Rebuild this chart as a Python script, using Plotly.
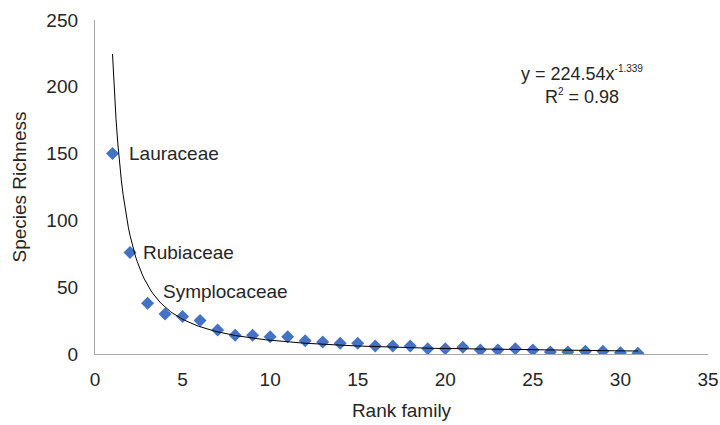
import numpy as np
import plotly.graph_objects as go

# Data
rank = list(range(1, 32))
richness = [150, 76, 38, 30, 28, 25, 18, 14, 14, 13, 13, 10, 9, 8, 8, 6, 6, 6, 4, 4,
            5, 3, 3, 4, 3, 1.5, 1.5, 2, 2, 1, 0.5]

label_names = ["Lauraceae", "Rubiaceae", "Symplocaceae"]
label_ranks = [1, 2, 3]
label_vals = [150, 76, 38]

# Power trendline coefficients as printed on the chart
coef_a = 224.54
coef_b = -1.339
r_squared = 0.98

x_axis_ticks = [0, 5, 10, 15, 20, 25, 30, 35]
y_axis_ticks = [0, 50, 100, 150, 200, 250]

FONT = "Liberation Sans, Arial, sans-serif"
TXT = "#262626"

fig = go.Figure()
fig.add_trace(go.Scatter(
    x=rank, y=richness, mode="markers",
    marker=dict(symbol="diamond", size=10, color="#4472C4", line=dict(width=0)),
    showlegend=False, hoverinfo="x+y"))

xc = np.linspace(rank[0], rank[-1], 300)
fig.add_trace(go.Scatter(
    x=xc, y=coef_a * xc ** coef_b, mode="lines",
    line=dict(color="black", width=1), showlegend=False, hoverinfo="skip"))

shifts = [(14, 0), (11, 0), (13, 12)]
for name, xr, yv, (dx, dy) in zip(label_names, label_ranks, label_vals, shifts):
    fig.add_annotation(x=xr, y=yv, text=name, showarrow=False, xanchor="left",
                       yanchor="middle", xshift=dx, yshift=dy,
                       font=dict(family=FONT, size=19, color=TXT))

fig.add_annotation(x=27.8, y=210,
                   text=f"y = {coef_a}x<sup><span style='font-size:10px'>{coef_b}</span></sup>",
                   showarrow=False, xanchor="center", yanchor="middle",
                   font=dict(family=FONT, size=18, color=TXT))
fig.add_annotation(x=27.8, y=192.4,
                   text=f"R<sup><span style='font-size:10px'>2</span></sup> = {r_squared}",
                   showarrow=False, xanchor="center", yanchor="middle",
                   font=dict(family=FONT, size=18, color=TXT))

fig.update_layout(
    width=720, height=425,
    margin=dict(l=95, r=12, t=20, b=71, autoexpand=False),
    paper_bgcolor="white", plot_bgcolor="white",
    font=dict(family=FONT, size=19, color=TXT),
    xaxis=dict(range=[0, 35], tickvals=x_axis_ticks, showgrid=False, zeroline=False,
               showline=True, linecolor="#a6a6a6", linewidth=1.3, ticks="",
               ticklabelstandoff=8, tickfont=dict(size=19, color=TXT),
               title=dict(text="Rank family", standoff=14, font=dict(size=19, color=TXT))),
    yaxis=dict(range=[0, 250], tickvals=y_axis_ticks, showgrid=False, zeroline=False,
               showline=True, linecolor="#a6a6a6", linewidth=1.3, ticks="",
               ticklabelstandoff=12, tickfont=dict(size=19, color=TXT),
               title=dict(text="Species Richness", standoff=14, font=dict(size=19, color=TXT))),
)

fig.write_html("out.html", config={"displayModeBar": False},
               post_script="document.body.style.margin='0';document.body.style.overflow='hidden';")
